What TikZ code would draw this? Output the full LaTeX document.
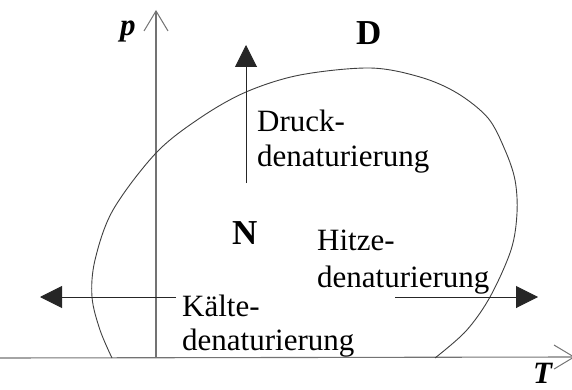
\documentclass[tikz,border=0pt]{standalone}
\usepackage{fontspec}
\setmainfont{Liberation Serif}
\usetikzlibrary{arrows.meta}
\begin{document}
\begin{tikzpicture}[x=1pt,y=-1pt,
  axisline/.style={draw=black!55,line width=1.1pt,-{Straight Barb[length=20pt,width=24pt,line width=1pt]}},
  curveline/.style={draw=black!75,line width=0.9pt},
  procarrow/.style={draw=black!85,line width=1pt,-{Triangle[length=22pt,width=22pt]}},
  lbl/.style={inner sep=0pt,anchor=base west,font=\fontsize{31}{35}\selectfont},
  big/.style={inner sep=0pt,anchor=base west,font=\fontsize{35}{40}\selectfont\bfseries},
  axlbl/.style={inner sep=0pt,anchor=base west,font=\fontsize{31}{34}\selectfont\bfseries\itshape}]
\useasboundingbox (0,0) rectangle (572,390);
% axes
\coordinate (tl) at (0,358);
\coordinate (tr) at (575,357);
\coordinate (po) at (156,358);
\coordinate (pt) at (156,10);
\draw[axisline] (tl) -- (tr);
\draw[axisline] (po) -- (pt);
\node[axlbl] (plab) at (120,36) {p};
\node[axlbl] (tlab) at (533,383) {T};
% phase boundary
\draw[curveline] plot[smooth,tension=0.55] coordinates {
  (112,358) (100,330) (92,297) (95,260) (113,210) (156,153) (200,118)
  (246,92) (300,75) (370,68) (420,77) (457,93) (488,118) (505,150)
  (515,180) (517,213) (511,250) (490,297) (466,331) (435,358)};
% state labels
\node[big] (D) at (356,45) {D};
\node[big] (N) at (232,244) {N};
% process arrows
\coordinate (da) at (246,183);
\coordinate (db) at (246,45);
\draw[procarrow] (da) -- (db);
\coordinate (ka) at (176,297);
\coordinate (kb) at (40,297);
\draw[procarrow] (ka) -- (kb);
\coordinate (ha) at (395,297);
\coordinate (hb) at (538,297);
\draw[procarrow] (ha) -- (hb);
% texts
\node[lbl] (dr1) at (257,132) {Druck-};
\node[lbl] (dr2) at (257,167) {denaturierung};
\node[lbl] (hi1) at (317,250) {Hitze-};
\node[lbl] (hi2) at (317,287) {denaturierung};
\node[lbl] (ka1) at (182,316) {Kälte-};
\node[lbl] (ka2) at (182,350) {denaturierung};
\end{tikzpicture}
\end{document}
